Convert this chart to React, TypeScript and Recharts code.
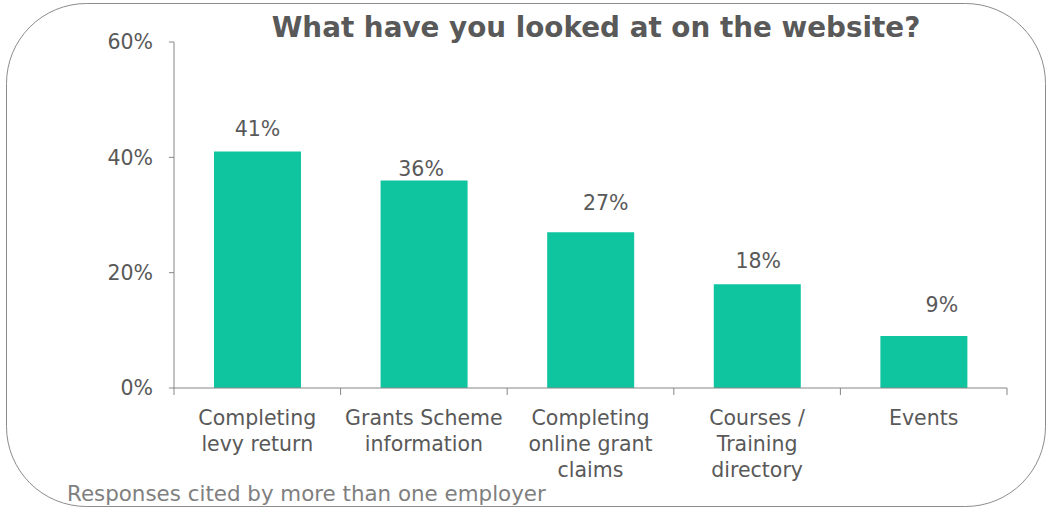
import React from "react";
import { BarChart, Bar, XAxis, YAxis, LabelList } from "recharts";

const categories = [
  "Completing\nlevy return",
  "Grants Scheme\ninformation",
  "Completing\nonline grant\nclaims",
  "Courses /\nTraining\ndirectory",
  "Events",
];
const values = [41, 36, 27, 18, 9];
const yTicks = [0, 20, 40, 60];
const title = "What have you looked at on the website?";
const footnote = "Responses cited by more than one employer";

// label nudges (dx, gap above bar) as placed in the original
const labelDx = [0, -3, 15, 1, 18];
const labelGap = [16, 4, 22, 16, 24];

const data = categories.map((c, i) => ({ cat: c, value: values[i] }));

const FONT = "'DejaVu Sans', Verdana, sans-serif";
const TEXT = "#595959";
const AXIS = "#868686";
const BAR = "#0FC5A0";

const XTick = (props: any) => {
  const { x, y, payload, index } = props;
  const off = payload && payload.offset ? payload.offset : 0;
  const axisY = y - 9;
  const lines = String(payload.value).split("\n");
  return (
    <g>
      <line x1={x - off} x2={x - off} y1={axisY} y2={axisY + 7} stroke={AXIS} strokeWidth={1} />
      {index === categories.length - 1 && (
        <line x1={x + off} x2={x + off} y1={axisY} y2={axisY + 7} stroke={AXIS} strokeWidth={1} />
      )}
      <text x={x} y={y} textAnchor="middle" fill={TEXT} fontSize={20.5} fontFamily={FONT}>
        {lines.map((l, i) => (
          <tspan key={i} x={x} dy={i === 0 ? 28 : 26}>
            {l}
          </tspan>
        ))}
      </text>
    </g>
  );
};

const BarLabel = (props: any) => {
  const { x, y, width, value, index } = props;
  return (
    <text
      x={x + width / 2 + (labelDx[index] || 0)}
      y={y - (labelGap[index] ?? 16)}
      textAnchor="middle"
      fill={TEXT}
      fontSize={20.5}
      fontFamily={FONT}
    >
      {value}%
    </text>
  );
};

export default function App() {
  return (
    <div
      style={{
        position: "absolute",
        left: 0,
        top: 0,
        width: 1051,
        height: 512,
        background: "#fff",
        fontFamily: FONT,
      }}
    >
      <svg width={1051} height={512} style={{ position: "absolute", left: 0, top: 0 }}>
        <rect x={6.5} y={3.5} width={1039} height={503} rx={80} ry={80} fill="none" stroke="#8c8c8c" strokeWidth={1} />
      </svg>
      <div
        style={{
          position: "absolute",
          left: 0,
          top: 10,
          width: 1192,
          textAlign: "center",
          fontWeight: "bold",
          fontSize: 27.8,
          color: TEXT,
          lineHeight: "36px",
          whiteSpace: "nowrap",
        }}
      >
        {title}
      </div>
      <div
        style={{
          position: "absolute",
          left: 67,
          top: 480,
          fontSize: 21.4,
          color: "#7f7f7f",
          lineHeight: "28px",
          whiteSpace: "nowrap",
        }}
      >
        {footnote}
      </div>
      <div style={{ position: "absolute", left: 0, top: 0 }}>
        <BarChart
          width={1051}
          height={512}
          data={data}
          margin={{ top: 42, right: 44, bottom: 0, left: 0 }}
          barCategoryGap="24%"
        >
          <YAxis
            width={174}
            domain={[0, 60]}
            ticks={yTicks}
            tickFormatter={(v: number) => `${v}%`}
            tick={{ fill: TEXT, fontSize: 20.5, fontFamily: FONT }}
            tickSize={5}
            tickMargin={16}
            axisLine={{ stroke: AXIS }}
            tickLine={{ stroke: AXIS }}
          />
          <XAxis
            dataKey="cat"
            height={124}
            interval={0}
            tick={<XTick />}
            tickSize={7}
            tickMargin={2}
            tickLine={false}
            axisLine={{ stroke: AXIS }}
          />
          <Bar dataKey="value" fill={BAR} isAnimationActive={false}>
            <LabelList dataKey="value" content={<BarLabel />} />
          </Bar>
        </BarChart>
      </div>
    </div>
  );
}
